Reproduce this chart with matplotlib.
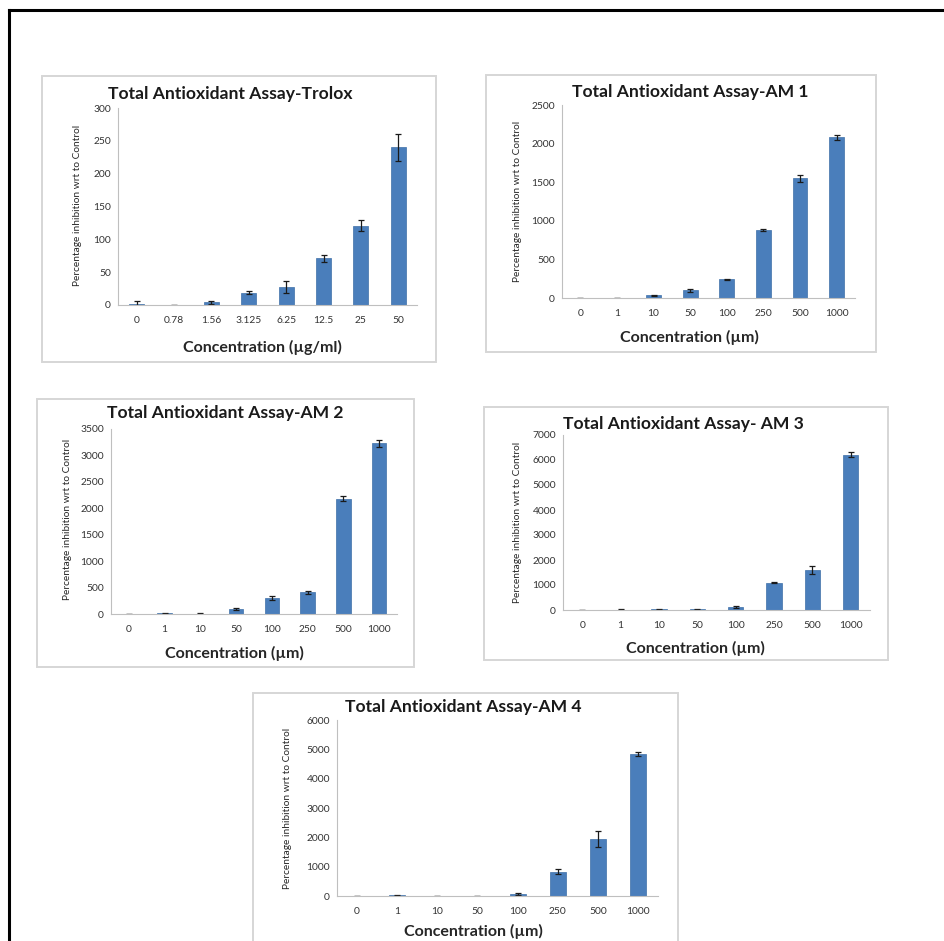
import matplotlib.pyplot as plt
from matplotlib.patches import Rectangle
from matplotlib.lines import Line2D

plt.rcParams['font.family'] = ['Lato', 'DejaVu Sans']

W, H = 944, 941

# data for each assay
trolox_conc = ['0', '0.78', '1.56', '3.125', '6.25', '12.5', '25', '50']
trolox_mean = [1, 0, 4, 19, 28, 71, 121, 240]
trolox_err = [5, 0, 2, 3, 9, 5, 9, 20]
trolox_ticks = [0, 50, 100, 150, 200, 250, 300]

am_conc = ['0', '1', '10', '50', '100', '250', '500', '1000']

am1_mean = [0, 0, 35, 99, 240, 878, 1548, 2080]
am1_err = [0, 0, 8, 15, 8, 15, 40, 35]
am1_ticks = [0, 500, 1000, 1500, 2000, 2500]

am2_mean = [0, 10, 8, 95, 310, 410, 2180, 3230]
am2_err = [0, 5, 5, 20, 40, 25, 50, 70]
am2_ticks = [0, 500, 1000, 1500, 2000, 2500, 3000, 3500]

am3_mean = [0, 20, 30, 30, 107, 1093, 1600, 6200]
am3_err = [0, 10, 10, 10, 40, 30, 150, 100]
am3_ticks = [0, 1000, 2000, 3000, 4000, 5000, 6000, 7000]

am4_mean = [0, 20, 5, 10, 68, 830, 1950, 4840]
am4_err = [0, 10, 5, 5, 20, 80, 270, 60]
am4_ticks = [0, 1000, 2000, 3000, 4000, 5000, 6000]

YLABEL = 'Percentage inhibition wrt to Control'
BAR = '#4a7ebb'
AXIS = '#bfbfbf'


def fx(x):
    return x / W


def fy(y):
    return 1 - y / H


def panel(fig, box, axbox, title, title_xy, xlabel, xlabel_xy, ylabel_xy,
          cats, vals, errs, ticks):
    bx0, by0, bx1, by1 = box
    fig.add_artist(Rectangle((fx(bx0), fy(by1)), fx(bx1 - bx0), (by1 - by0) / H,
                             transform=fig.transFigure, facecolor='white',
                             edgecolor='#d6d6d6', lw=1.4, zorder=0))
    ax0, ay0, ax1, ay1 = axbox
    ax = fig.add_axes([fx(ax0), fy(ay1), fx(ax1 - ax0), (ay1 - ay0) / H])
    ax.set_facecolor('none')
    pos = range(len(cats))
    ax.bar(pos, vals, width=0.4, color=BAR, edgecolor='#3f6fa8', lw=0.5,
           yerr=errs, error_kw=dict(ecolor='#1a1a1a', elinewidth=0.9,
                                    capsize=2, capthick=0.9))
    ax.set_xlim(-0.5, len(cats) - 0.5)
    ax.set_ylim(ticks[0], ticks[-1])
    ax.set_yticks(ticks)
    ax.set_xticks(list(pos))
    ax.set_xticklabels(cats)
    ax.tick_params(axis='both', length=0, labelsize=7.4, colors='#333333')
    ax.tick_params(axis='x', pad=8)
    ax.tick_params(axis='y', pad=5)
    for s in ['top', 'right']:
        ax.spines[s].set_visible(False)
    for s in ['left', 'bottom']:
        ax.spines[s].set_color(AXIS)
        ax.spines[s].set_linewidth(0.8)
    fig.text(fx(title_xy[0]), fy(title_xy[1]), title, ha='center', va='center',
             fontsize=12.6, fontweight='bold', color='#1a1a1a')
    fig.text(fx(xlabel_xy[0]), fy(xlabel_xy[1]), xlabel, ha='center', va='center',
             fontsize=11.5, fontweight='bold', color='#262626')
    fig.text(fx(ylabel_xy[0]), fy(ylabel_xy[1]), YLABEL, ha='center', va='center',
             rotation=90, fontsize=7.3, color='#262626')


fig = plt.figure(figsize=(W / 100, H / 100), dpi=100)
fig.patch.set_facecolor('white')

# black frame around the figure (open at right and bottom)
fig.add_artist(Line2D([fx(9), fx(9)], [fy(10), 0], color='black', lw=2.2,
                      transform=fig.transFigure))
fig.add_artist(Line2D([fx(9), 1], [fy(10), fy(10)], color='black', lw=2.2,
                      transform=fig.transFigure))

panel(fig, (42, 76, 436, 362), (118, 108, 417, 305),
      'Total Antioxidant Assay-Trolox', (230, 94),
      'Concentration (µg/ml)', (262, 347), (77, 205),
      trolox_conc, trolox_mean, trolox_err, trolox_ticks)

panel(fig, (486, 75, 876, 352), (562, 105, 855, 298),
      'Total Antioxidant Assay-AM 1', (690, 92),
      'Concentration (µm)', (689, 337), (518, 201),
      am_conc, am1_mean, am1_err, am1_ticks)

panel(fig, (37, 399, 414, 667), (111, 429, 397, 614),
      'Total Antioxidant Assay-AM 2', (225, 413),
      'Concentration (µm)', (234, 653), (68, 519),
      am_conc, am2_mean, am2_err, am2_ticks)

panel(fig, (484, 407, 888, 660), (563, 435, 870, 610),
      'Total Antioxidant Assay- AM 3', (683, 424),
      'Concentration (µm)', (695, 648), (517, 522),
      am_conc, am3_mean, am3_err, am3_ticks)

panel(fig, (253, 693, 678, 960), (337, 720, 658, 896),
      'Total Antioxidant Assay-AM 4', (463, 707),
      'Concentration (µm)', (473, 931), (287, 808),
      am_conc, am4_mean, am4_err, am4_ticks)

fig.savefig('out.png', dpi=100)
